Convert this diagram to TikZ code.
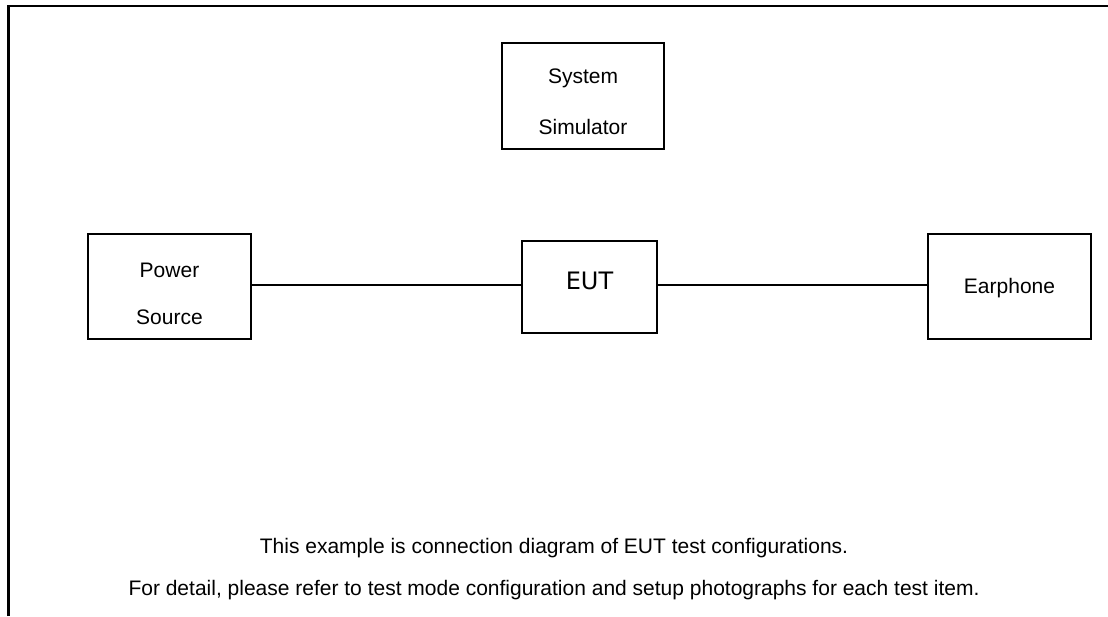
\documentclass[tikz,border=0pt]{standalone}
\usepackage{fontspec}
\setmainfont{Liberation Sans}
\newfontfamily\eutfont{DejaVu Sans}
\begin{document}
\begin{tikzpicture}[x=1pt,y=-1pt,
  box/.style={draw, line width=1.2pt, inner sep=0pt},
  lbl/.style={font=\fontsize{21}{21}\selectfont, align=center, inner sep=0pt},
  wire/.style={line width=1.2pt}]
\useasboundingbox (0,0) rectangle (1108,616);
\fill[white] (0,0) rectangle (1108,616);
% frame
\draw[line width=2.6pt] (8.5,616) -- (8.5,6) -- (1108,6);
% boxes
\node[box, minimum width=162pt, minimum height=106pt] (sim) at (583,96) {};
\node[lbl] (simA) at (583,78) {System};
\node[lbl] (simB) at (583,127) {Simulator};
\node[box, minimum width=163pt, minimum height=105pt] (pwr) at (169.5,286.5) {};
\node[lbl] (pwrA) at (169.5,270) {Power};
\node[lbl] (pwrB) at (169.5,317) {Source};
\node[box, minimum width=135pt, minimum height=92pt] (eut) at (589.5,287) {};
\node[inner sep=0pt, font=\eutfont\fontsize{24}{24}\selectfont] (eutl) at (589.5,281) {EUT};
\node[box, minimum width=163pt, minimum height=105pt] (ear) at (1009.5,286.5) {};
\node[lbl] (earl) at (1009.5,288) {Earphone};
% wires
\draw[wire] (pwr.east |- 0,285) -- (eut.west |- 0,285);
\draw[wire] (eut.east |- 0,285) -- (ear.west |- 0,285);
% caption
\node[lbl] (cap1) at (554,548) {This example is connection diagram of EUT test configurations.};
\node[lbl] (cap2) at (554,590) {For detail, please refer to test mode configuration and setup photographs for each test item.};
\end{tikzpicture}
\end{document}
